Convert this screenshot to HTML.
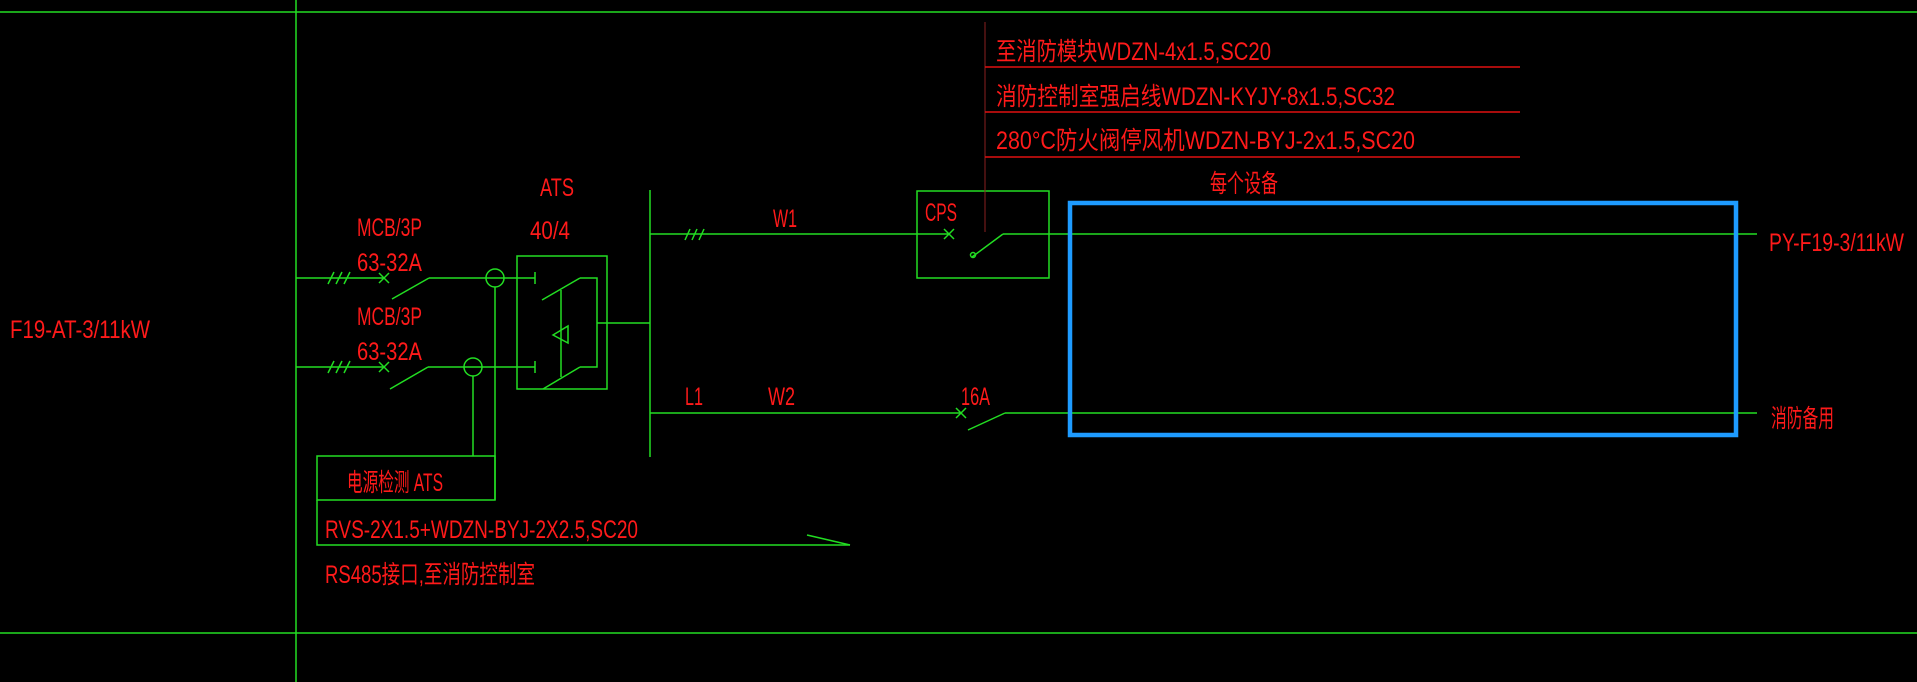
<!DOCTYPE html>
<html><head><meta charset="utf-8"><style>
html,body{margin:0;padding:0;background:#000;}
svg{display:block}
text{font-family:"Liberation Sans","Noto Sans CJK SC",sans-serif;fill:#ff1a1a;font-size:25px}
</style></head><body>
<svg width="1917" height="682" viewBox="0 0 1917 682" xmlns="http://www.w3.org/2000/svg">
<g stroke="#22dd22" stroke-width="1.5" fill="none">
<line x1="0" y1="12" x2="1917" y2="12"/>
<line x1="0" y1="633" x2="1917" y2="633"/>
<line x1="296" y1="0" x2="296" y2="682"/>
<line x1="296" y1="278" x2="384" y2="278"/>
<path d="M328 284l6-12M336 284l6-12M344 284l6-12"/>
<path d="M379 273l10 10M389 273l-10 10"/>
<line x1="392" y1="299" x2="429" y2="278"/>
<line x1="429" y1="278" x2="535" y2="278"/>
<line x1="535" y1="272" x2="535" y2="284"/>
<circle cx="495" cy="278" r="9"/>
<line x1="296" y1="367" x2="384" y2="367"/>
<path d="M328 373l6-12M336 373l6-12M344 373l6-12"/>
<path d="M379 362l10 10M389 362l-10 10"/>
<line x1="390" y1="389" x2="428" y2="367"/>
<line x1="428" y1="367" x2="535" y2="367"/>
<line x1="535" y1="361" x2="535" y2="373"/>
<circle cx="473" cy="367" r="9"/>
<line x1="495" y1="287" x2="495" y2="500"/>
<line x1="473" y1="376" x2="473" y2="456"/>
<rect x="317" y="456" width="178" height="44"/>
<polyline points="317,500 317,545 850,545"/>
<polyline points="807,535 850,545"/>
<rect x="517" y="256" width="90" height="133"/>
<line x1="542" y1="300" x2="580" y2="278"/>
<polyline points="580,278 597,278 597,367 580,367"/>
<line x1="543" y1="389" x2="580" y2="367"/>
<line x1="561" y1="290" x2="561" y2="377"/>
<polygon points="553,335 568,326 568,343"/>
<line x1="597" y1="323" x2="650" y2="323"/>
<line x1="650" y1="190" x2="650" y2="457"/>
<line x1="650" y1="234" x2="949" y2="234"/>
<path d="M685 240l5-11M692 240l5-11M699 240l5-11"/>
<path d="M944 229l10 10M954 229l-10 10"/>
<rect x="917" y="191" width="132" height="87"/>
<line x1="972" y1="257" x2="1003" y2="234"/>
<circle cx="973" cy="255" r="2.5"/>
<line x1="1003" y1="234" x2="1757" y2="234"/>
<line x1="650" y1="413" x2="961" y2="413"/>
<path d="M956 408l10 10M966 408l-10 10"/>
<line x1="968" y1="430" x2="1005" y2="413"/>
<line x1="1005" y1="413" x2="1757" y2="413"/>
</g>
<line x1="985" y1="22" x2="985" y2="232" stroke="#8a2020" stroke-width="1"/>
<g stroke="#e01010" stroke-width="1.5">
<line x1="985" y1="67" x2="1520" y2="67"/>
<line x1="985" y1="112" x2="1520" y2="112"/>
<line x1="985" y1="157" x2="1520" y2="157"/>
</g>
<rect x="1070" y="203" width="666" height="232" fill="none" stroke="#1e9bff" stroke-width="4.5"/>
<text x="10" y="338" textLength="140" lengthAdjust="spacingAndGlyphs">F19-AT-3/11kW</text>
<text x="357" y="236" textLength="65" lengthAdjust="spacingAndGlyphs">MCB/3P</text>
<text x="357" y="271" textLength="65" lengthAdjust="spacingAndGlyphs">63-32A</text>
<text x="357" y="325" textLength="65" lengthAdjust="spacingAndGlyphs">MCB/3P</text>
<text x="357" y="360" textLength="65" lengthAdjust="spacingAndGlyphs">63-32A</text>
<text x="540" y="196" textLength="34" lengthAdjust="spacingAndGlyphs">ATS</text>
<text x="530" y="239" textLength="40" lengthAdjust="spacingAndGlyphs">40/4</text>
<text x="347" y="491" textLength="96" lengthAdjust="spacingAndGlyphs">电源检测 ATS</text>
<text x="325" y="538" textLength="313" lengthAdjust="spacingAndGlyphs">RVS-2X1.5+WDZN-BYJ-2X2.5,SC20</text>
<text x="325" y="583" textLength="210" lengthAdjust="spacingAndGlyphs">RS485接口,至消防控制室</text>
<text x="773" y="227" textLength="24" lengthAdjust="spacingAndGlyphs">W1</text>
<text x="925" y="221" textLength="32" lengthAdjust="spacingAndGlyphs">CPS</text>
<text x="996" y="60" textLength="275" lengthAdjust="spacingAndGlyphs">至消防模块WDZN-4x1.5,SC20</text>
<text x="996" y="105" textLength="399" lengthAdjust="spacingAndGlyphs">消防控制室强启线WDZN-KYJY-8x1.5,SC32</text>
<text x="996" y="149" textLength="419" lengthAdjust="spacingAndGlyphs">280°C防火阀停风机WDZN-BYJ-2x1.5,SC20</text>
<text x="1210" y="192" textLength="68" lengthAdjust="spacingAndGlyphs">每个设备</text>
<text x="1769" y="251" textLength="135" lengthAdjust="spacingAndGlyphs">PY-F19-3/11kW</text>
<text x="685" y="405" textLength="18" lengthAdjust="spacingAndGlyphs">L1</text>
<text x="768" y="405" textLength="27" lengthAdjust="spacingAndGlyphs">W2</text>
<text x="961" y="405" textLength="29" lengthAdjust="spacingAndGlyphs">16A</text>
<text x="1771" y="427" textLength="63" lengthAdjust="spacingAndGlyphs">消防备用</text>
</svg>
</body></html>
